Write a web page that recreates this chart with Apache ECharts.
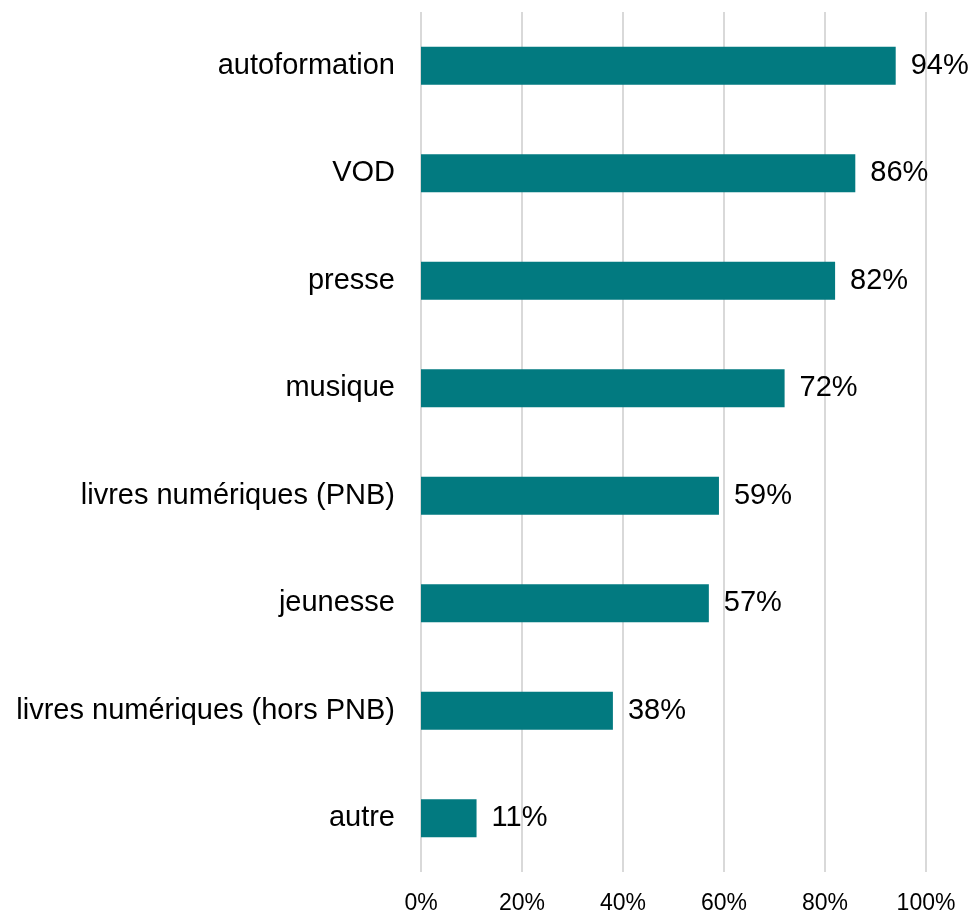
<!DOCTYPE html>
<html>
<head>
<meta charset="utf-8">
<script src="https://cdn.jsdelivr.net/npm/echarts@6/dist/echarts.min.js"></script>
<style>
  html, body { margin: 0; padding: 0; background: #fff; }
  #chart { width: 970px; height: 911px; }
</style>
</head>
<body>
<div id="chart"></div>
<script>
// catégories de ressources numériques, de haut en bas
const categories = [
  "autoformation",
  "VOD",
  "presse",
  "musique",
  "livres numériques (PNB)",
  "jeunesse",
  "livres numériques (hors PNB)",
  "autre"
];
// part en %
const values = [94, 86, 82, 72, 59, 57, 38, 11];
const xTicks = [0, 20, 40, 60, 80, 100];

const chart = echarts.init(document.getElementById("chart"), null, { renderer: "canvas" });

const font = "Liberation Sans, Arial, sans-serif";

const option = {
  animation: false,
  // v6 : pas de réduction automatique de la grille pour faire tenir les libellés
  grid: { left: 421, right: 44, top: 12, bottom: 39, containLabel: false, outerBoundsMode: "none" },
  xAxis: {
    type: "value",
    min: xTicks[0],
    max: xTicks[xTicks.length - 1],
    interval: 20,
    axisLine: { show: false },
    axisTick: { show: false },
    splitLine: { show: true, lineStyle: { color: "#d9d9d9", width: 2 } },
    axisLabel: {
      formatter: (v) => v + "%",
      color: "#000",
      fontSize: 23,
      fontFamily: font,
      margin: 20
    }
  },
  yAxis: {
    type: "category",
    data: categories,
    inverse: true,
    axisLine: { show: false },
    axisTick: { show: false },
    axisLabel: {
      color: "#000",
      fontSize: 29,
      fontFamily: font,
      margin: 26,
      padding: [4, 0, 0, 0]
    }
  },
  series: [
    {
      type: "bar",
      data: values,
      barWidth: 38,
      itemStyle: { color: "#027a80" },
      label: {
        show: true,
        position: "right",
        distance: 15,
        formatter: (p) => p.value + "%",
        color: "#000",
        fontSize: 29,
        fontFamily: font,
        padding: [4, 0, 0, 0]
      }
    }
  ]
};

chart.setOption(option);
</script>
</body>
</html>
